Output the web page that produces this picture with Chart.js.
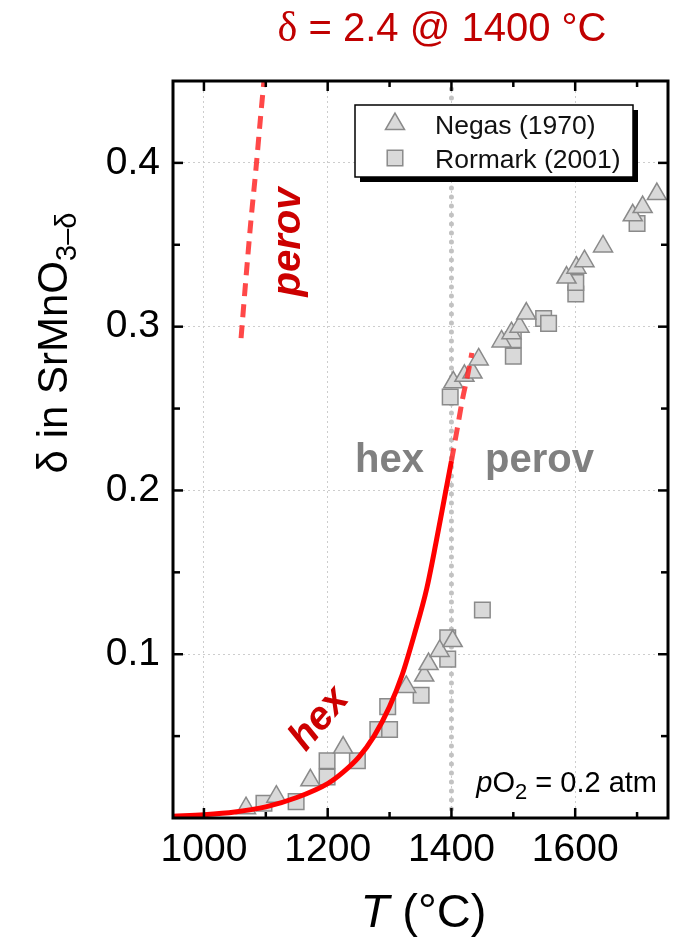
<!DOCTYPE html>
<html><head><meta charset="utf-8">
<script src="https://cdn.jsdelivr.net/npm/chart.js@4.4.1/dist/chart.umd.min.js"></script>
<style>html,body{margin:0;padding:0;background:#fff;}#wrap{width:682px;height:939px;}</style>
</head><body><div id="wrap"><canvas id="c" width="682" height="939"></canvas></div>
<script>
// ---- data ----
const xTicks = [1000, 1200, 1400, 1600];
const xTickLabels = ['1000', '1200', '1400', '1600'];
const xMinorTicks = [1100, 1300, 1500, 1700];
const yTicks = [0.1, 0.2, 0.3, 0.4];
const yTickLabels = ['0.1', '0.2', '0.3', '0.4'];
const yMinorTicks = [0.05, 0.15, 0.25, 0.35];

const negasLabel = 'Negas (1970)';
const negasT = [1068, 1117, 1172, 1225, 1327, 1356, 1363, 1381, 1402, 1403, 1421, 1434, 1444, 1481, 1497, 1510, 1521, 1586, 1602, 1615, 1645, 1693, 1709, 1732];
const negasD = [0.006, 0.013, 0.023, 0.043, 0.080, 0.087, 0.094, 0.102, 0.108, 0.266, 0.270, 0.272, 0.280, 0.291, 0.296, 0.300, 0.308, 0.330, 0.336, 0.340, 0.349, 0.368, 0.373, 0.381];

const rormarkLabel = 'Rormark (2001)';
const rormarkT = [1097, 1149, 1199, 1199, 1248, 1281, 1300, 1297, 1351, 1394, 1394, 1450, 1398, 1500, 1500, 1549, 1557, 1601, 1601, 1700];
const rormarkD = [0.009, 0.010, 0.025, 0.035, 0.035, 0.054, 0.054, 0.068, 0.075, 0.097, 0.110, 0.127, 0.257, 0.282, 0.292, 0.305, 0.302, 0.320, 0.327, 0.363];

const hexCurveT = [950, 1000, 1050, 1100, 1150, 1200, 1225, 1250, 1275, 1300, 1320, 1340, 1360, 1375, 1390, 1400];
const hexCurveD = [0.001, 0.002, 0.0037, 0.0068, 0.0125, 0.021, 0.028, 0.037, 0.050, 0.068, 0.087, 0.112, 0.140, 0.168, 0.198, 0.218];

const hexDashT = [1400, 1410, 1418, 1426, 1433];
const hexDashD = [0.218, 0.239, 0.256, 0.270, 0.284];

const perovDashT = [1060, 1068, 1076, 1084, 1092, 1097];
const perovDashD = [0.293, 0.330, 0.365, 0.396, 0.430, 0.450];

const phaseT = [1400, 1400];
const phaseD = [0, 0.45];

const pts = (xs, ys) => xs.map((x, i) => ({x: x, y: ys[i]}));

const SANS = '"Liberation Sans", Arial, sans-serif';
const markerFill = '#d9d9d9';
const markerEdge = '#8a8a8a';

function drawMarker(ctx, style, x, y, r) {
  ctx.save();
  ctx.fillStyle = markerFill;
  ctx.strokeStyle = markerEdge;
  ctx.lineWidth = 1.5;
  ctx.beginPath();
  if (style === 'triangle') {
    let a = 0;
    for (let k = 0; k < 3; k++) {
      const px = x + Math.sin(a) * r, py = y - Math.cos(a) * r;
      if (k === 0) ctx.moveTo(px, py); else ctx.lineTo(px, py);
      a += 2 * Math.PI / 3;
    }
    ctx.closePath();
  } else {
    const s = Math.SQRT1_2 * r;
    ctx.rect(x - s, y - s, 2 * s, 2 * s);
  }
  ctx.fill();
  ctx.stroke();
  ctx.restore();
}

const decor = {
  id: 'decor',
  afterDraw(chart) {
    const ctx = chart.ctx;
    const ca = chart.chartArea;
    const xs = chart.scales.x, ys = chart.scales.y;
    ctx.save();
    // frame
    ctx.strokeStyle = '#000';
    ctx.lineWidth = 3;
    ctx.strokeRect(ca.left, ca.top, ca.right - ca.left, ca.bottom - ca.top);
    // inward ticks
    ctx.lineWidth = 2.5;
    const tick = (x1, y1, x2, y2) => { ctx.beginPath(); ctx.moveTo(x1, y1); ctx.lineTo(x2, y2); ctx.stroke(); };
    xTicks.forEach(v => { const p = xs.getPixelForValue(v); tick(p, ca.bottom, p, ca.bottom - 10); tick(p, ca.top, p, ca.top + 10); });
    xMinorTicks.forEach(v => { const p = xs.getPixelForValue(v); tick(p, ca.bottom, p, ca.bottom - 6); tick(p, ca.top, p, ca.top + 6); });
    yTicks.forEach(v => { const p = ys.getPixelForValue(v); tick(ca.left, p, ca.left + 10, p); tick(ca.right, p, ca.right - 10, p); });
    yMinorTicks.forEach(v => { const p = ys.getPixelForValue(v); tick(ca.left, p, ca.left + 7, p); tick(ca.right, p, ca.right - 7, p); });

    // legend
    const lx = 355, ly = 105, lw = 278, lh = 72;
    ctx.fillStyle = '#000';
    ctx.fillRect(lx + 5, ly + 5, lw, lh);
    ctx.fillStyle = '#fff';
    ctx.fillRect(lx, ly, lw, lh);
    ctx.lineWidth = 1.5;
    ctx.strokeStyle = '#000';
    ctx.strokeRect(lx, ly, lw, lh);
    const ds = chart.data.datasets;
    const legendItems = ds.filter(d => d.inLegend);
    legendItems.forEach((d, i) => {
      const cy = [124, 158][i];
      drawMarker(ctx, d.pointStyle, 395, cy, 11);
      ctx.fillStyle = '#111';
      ctx.font = '26.5px ' + SANS;
      ctx.textAlign = 'left';
      ctx.textBaseline = 'alphabetic';
      ctx.fillText(d.label, 435, [134, 168][i]);
    });

    // title
    ctx.fillStyle = '#c00000';
    ctx.textBaseline = 'alphabetic';
    ctx.font = '42px "Liberation Serif", serif';
    const d1 = 'δ';
    const w1 = ctx.measureText(d1).width;
    ctx.font = '40px ' + SANS;
    const rest = ' = 2.4 @ 1400 °C';
    const w2 = ctx.measureText(rest).width;
    let tx = 442 - (w1 + w2) / 2;
    ctx.textAlign = 'left';
    ctx.font = '42px "Liberation Serif", serif';
    ctx.fillText(d1, tx, 41);
    ctx.font = '40px ' + SANS;
    ctx.fillText(rest, tx + w1, 41);

    // x axis title
    ctx.fillStyle = '#000';
    ctx.font = 'italic 47px ' + SANS;
    const tT = 'T';
    const wT = ctx.measureText(tT).width;
    ctx.font = '47px ' + SANS;
    const tR = ' (°C)';
    const wR = ctx.measureText(tR).width;
    const xc = (ca.left + ca.right) / 2 + 3;
    let sx = xc - (wT + wR) / 2;
    ctx.font = 'italic 47px ' + SANS;
    ctx.fillText(tT, sx, 927);
    ctx.font = '47px ' + SANS;
    ctx.fillText(tR, sx + wT, 927);

    // y axis title
    ctx.save();
    ctx.font = '42px ' + SANS;
    const mainY = 'δ in SrMnO';
    const wm = ctx.measureText(mainY).width;
    ctx.font = '29px ' + SANS;
    const subY = '3–δ';
    const wsub = ctx.measureText(subY).width;
    const startY = 343 + (wm + wsub) / 2;
    ctx.translate(67, startY);
    ctx.rotate(-Math.PI / 2);
    ctx.font = '42px ' + SANS;
    ctx.fillText(mainY, 0, 0);
    ctx.font = '29px ' + SANS;
    ctx.fillText(subY, wm, 9);
    ctx.restore();

    // phase labels (gray)
    ctx.fillStyle = '#808080';
    ctx.font = 'bold 40px ' + SANS;
    ctx.textAlign = 'left';
    ctx.fillText('hex', 355, 472);
    ctx.fillText('perov', 485, 472);

    // red rotated labels
    ctx.fillStyle = '#cc0000';
    ctx.font = 'italic bold 40px ' + SANS;
    ctx.save();
    ctx.translate(300, 242);
    ctx.rotate(-Math.PI / 2);
    ctx.textAlign = 'center';
    ctx.fillText('perov', 0, 0);
    ctx.restore();
    ctx.save();
    ctx.translate(328, 726);
    ctx.rotate(-50 * Math.PI / 180);
    ctx.textAlign = 'center';
    ctx.fillText('hex', 0, 0);
    ctx.restore();

    // pO2 label
    ctx.fillStyle = '#000';
    const base = 792;
    ctx.font = 'italic 29px ' + SANS;
    const pW = ctx.measureText('p').width;
    ctx.font = '29px ' + SANS;
    const oW = ctx.measureText('O').width;
    ctx.font = '22px ' + SANS;
    const sW = ctx.measureText('2').width;
    ctx.font = '29px ' + SANS;
    const rW = ctx.measureText(' = 0.2 atm').width;
    let px = 657 - (pW + oW + sW + rW);
    ctx.textAlign = 'left';
    ctx.font = 'italic 29px ' + SANS;
    ctx.fillText('p', px, base); px += pW;
    ctx.font = '29px ' + SANS;
    ctx.fillText('O', px, base); px += oW;
    ctx.font = '22px ' + SANS;
    ctx.fillText('2', px, base + 7); px += sW;
    ctx.font = '29px ' + SANS;
    ctx.fillText(' = 0.2 atm', px, base);
    ctx.restore();
  }
};

new Chart(document.getElementById('c'), {
  type: 'scatter',
  data: {
    datasets: [
      { type: 'line', label: 'hex fit', data: pts(hexCurveT, hexCurveD), borderColor: '#ff0000', borderWidth: 5,
        pointRadius: 0, fill: false, cubicInterpolationMode: 'monotone', order: 0 },
      { type: 'line', label: 'hex extrapolation', data: pts(hexDashT, hexDashD), borderColor: 'rgba(255,40,40,0.85)', borderWidth: 5,
        borderDash: [13, 8], pointRadius: 0, fill: false, cubicInterpolationMode: 'monotone', order: 0 },
      { type: 'line', label: 'perov fit', data: pts(perovDashT, perovDashD), borderColor: 'rgba(255,40,40,0.85)', borderWidth: 5,
        borderDash: [13, 8], pointRadius: 0, fill: false, cubicInterpolationMode: 'monotone', order: 0 },
      { label: negasLabel, inLegend: true, data: pts(negasT, negasD), pointStyle: 'triangle', pointRadius: 11,
        backgroundColor: markerFill, borderColor: markerEdge, borderWidth: 1.5, order: 1 },
      { label: rormarkLabel, inLegend: true, data: pts(rormarkT, rormarkD), pointStyle: 'rect', pointRadius: 11,
        backgroundColor: markerFill, borderColor: markerEdge, borderWidth: 1.5, order: 1 },
      { type: 'line', label: 'phase boundary', data: pts(phaseT, phaseD), borderColor: '#c2c2c2', borderWidth: 5,
        borderDash: [0, 9], borderCapStyle: 'round', pointRadius: 0, fill: false, order: 2 }
    ]
  },
  options: {
    responsive: false,
    animation: false,
    devicePixelRatio: 1,
    layout: { padding: { top: 81, right: 14, left: 0, bottom: 0 } },
    plugins: { legend: { display: false }, tooltip: { enabled: false }, title: { display: false } },
    scales: {
      x: {
        type: 'linear', min: 950, max: 1750,
        afterBuildTicks: s => { s.ticks = xTicks.map(v => ({ value: v })); },
        afterFit: s => { s.height = 121; },
        ticks: { font: { family: SANS, size: 39 }, color: '#000', padding: 9, maxRotation: 0, autoSkip: false,
                 callback: (v, i) => xTickLabels[i] },
        grid: { color: '#cdcdcd', lineWidth: 1, drawTicks: false },
        border: { display: false, dash: [2, 3] }
      },
      y: {
        type: 'linear', min: 0, max: 0.45,
        afterBuildTicks: s => { s.ticks = yTicks.map(v => ({ value: v })); },
        afterFit: s => { s.width = 173; },
        ticks: { font: { family: SANS, size: 39 }, color: '#000', padding: 13, autoSkip: false,
                 callback: (v, i) => yTickLabels[i] },
        grid: { color: '#cdcdcd', lineWidth: 1, drawTicks: false },
        border: { display: false, dash: [2, 3] }
      }
    }
  },
  plugins: [decor]
});
</script>
</body></html>
